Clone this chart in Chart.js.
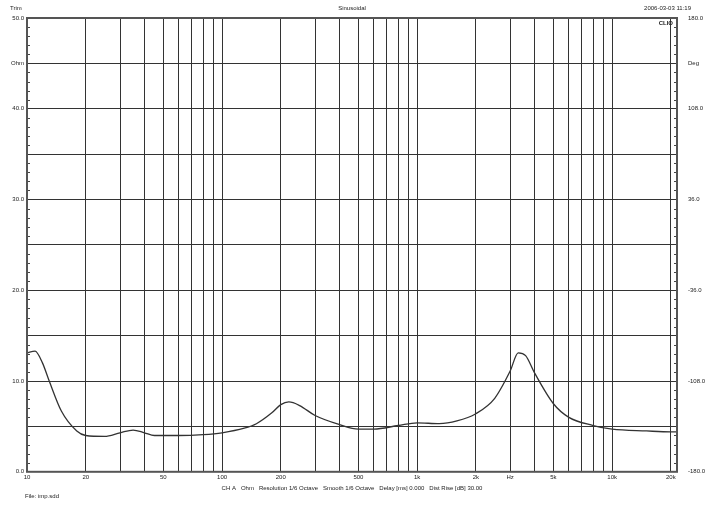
<!DOCTYPE html>
<html><head><script src="https://cdn.jsdelivr.net/npm/chart.js@4/dist/chart.umd.min.js"></script>
<style>html,body{margin:0;padding:0;background:#fff}#c{display:block}</style></head>
<body><canvas id="c" width="705" height="508"></canvas>
<script>
const freqs=[10,11,12,13,15,18,20,25,30,35,40,45,60,80,100,130,150,180,200,220,250,300,400,500,600,800,1000,1300,1600,2000,2500,3000,3300,3600,4000,5000,6000,8000,10000,15000,20000,21500];
const ohms=[13.1,13.3,12.0,10.0,6.7,4.5,4.0,3.9,4.3,4.6,4.3,4.0,4.0,4.1,4.3,4.8,5.3,6.5,7.4,7.7,7.3,6.2,5.2,4.7,4.7,5.1,5.4,5.3,5.6,6.4,8.1,11.1,13.1,12.8,10.9,7.5,6.0,5.1,4.7,4.5,4.4,4.4];
const xTicks=[10,20,30,40,50,60,70,80,90,100,200,300,400,500,600,700,800,900,1000,2000,3000,4000,5000,6000,7000,8000,9000,10000,20000];
const xLabels={10:'10',20:'20',50:'50',100:'100',200:'200',500:'500',1000:'1k',2000:'2k',3000:'Hz',5000:'5k',10000:'10k',20000:'20k'};
const yLabels={0:'0.0',10:'10.0',20:'20.0',30:'30.0',40:'40.0',45:'Ohm',50:'50.0'};
const rLabels={0:'-180.0',10:'-108.0',20:'-36.0',30:'36.0',40:'108.0',45:'Deg',50:'180.0'};
const extra={id:'extra',afterDraw(ch){const c=ch.ctx,a=ch.chartArea;c.save();c.fillStyle='#222';c.font='6px "Liberation Sans", Arial';
c.textAlign='left';c.fillText('Trim',10,10);c.fillText('File: imp.sdd',25,498);
c.textAlign='center';c.fillText('Sinusoidal',352,10);c.fillText('CH A   Ohm   Resolution 1/6 Octave   Smooth 1/6 Octave   Delay [ms] 0.000   Dist Rise [dB] 30.00',352,490);
c.textAlign='right';c.fillText('2006-03-03 11:19',691,10);c.font='bold 6px "Liberation Sans", Arial';c.fillText('CLIO',a.right-4,25);
c.strokeStyle='#444';c.lineWidth=1;const ys=ch.scales.y;
for(let v=0;v<50;v+=1){if(v%5===0)continue;const yy=Math.round(ys.getPixelForValue(v))+0.5;c.beginPath();c.moveTo(a.left,yy);c.lineTo(a.left+3,yy);c.moveTo(a.right,yy);c.lineTo(a.right-3,yy);c.stroke();}
c.lineWidth=2;c.strokeStyle='#555';c.strokeRect(a.left,a.top,a.right-a.left,a.bottom-a.top);c.restore();}};
new Chart(document.getElementById('c'),{type:'line',
data:{datasets:[{data:freqs.map((f,i)=>({x:f,y:ohms[i]})),borderColor:'#333',borderWidth:1.3,pointRadius:0,tension:0.4,cubicInterpolationMode:'monotone',fill:false}]},
options:{responsive:false,animation:false,events:[],layout:{padding:{left:4,right:0,top:18,bottom:25}},
plugins:{legend:{display:false},tooltip:{enabled:false}},
scales:{x:{type:'logarithmic',min:10,max:21500,afterBuildTicks(s){s.ticks=xTicks.map(v=>({value:v}));},
ticks:{autoSkip:false,maxRotation:0,padding:2,color:'#222',font:{size:6,family:'"Liberation Sans", Arial'},callback:(v)=>xLabels[v]||''},
grid:{color:'#333',lineWidth:1,drawTicks:false},border:{display:false}},
y:{min:0,max:50,afterBuildTicks(s){s.ticks=[0,5,10,15,20,25,30,35,40,45,50].map(v=>({value:v}));},
ticks:{autoSkip:false,padding:3,color:'#222',font:{size:6,family:'"Liberation Sans", Arial'},callback:(v)=>yLabels[v]||''},
grid:{color:'#333',lineWidth:1,drawTicks:false},border:{display:false},afterFit(s){s.width=23;}},
y2:{position:'right',min:0,max:50,afterBuildTicks(s){s.ticks=[0,10,20,30,40,45,50].map(v=>({value:v}));},
ticks:{autoSkip:false,padding:3,color:'#222',font:{size:6,family:'"Liberation Sans", Arial'},callback:(v)=>rLabels[v]||''},
grid:{display:false},border:{display:false},afterFit(s){s.width=28;}}}},
plugins:[extra]});
</script></body></html>
